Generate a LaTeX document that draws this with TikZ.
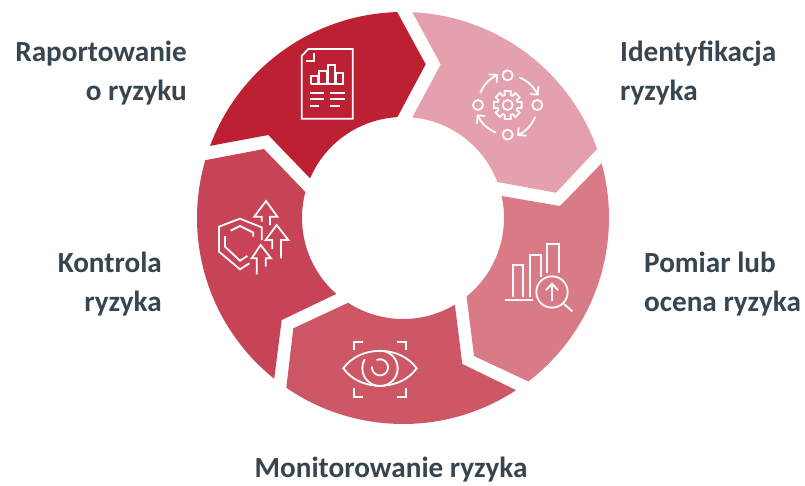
\documentclass[tikz,border=0pt]{standalone}
\usepackage{fontspec}
\setmainfont{Carlito}
\usepackage{xcolor}
\definecolor{raport}{HTML}{BC2032}
\definecolor{ident}{HTML}{E4A0AC}
\definecolor{pomiar}{HTML}{D97A87}
\definecolor{monit}{HTML}{CE5766}
\definecolor{kontrola}{HTML}{C64456}
\definecolor{labeltext}{HTML}{36454F}

\begin{document}
\begin{tikzpicture}[x=1pt, y=1pt,
  heading/.style={inner sep=0pt, text=labeltext, font=\fontsize{29.2}{39}\selectfont\bfseries},
  icon/.style={draw=white, line width=1.8pt, line join=miter},
  zoomed/.style={x=0.33333pt, y=-0.33333pt},
]
\useasboundingbox (-403,-267) rectangle (402,218);

\fill[raport] (159.5:206) arc[start angle=159.5, end angle=91.6, radius=206] -- (22.7,153.7)
  -- (93.2:101) arc[start angle=93.2, end angle=156.9, radius=101] -- (-134.7,83) -- cycle;
\fill[ident] (87.4:206) arc[start angle=87.4, end angle=19.6, radius=206] -- (153,25.3)
  -- (20.9:101) arc[start angle=20.9, end angle=84.7, radius=101] -- (37.7,153.7) -- cycle;
\fill[pomiar] (15.4:206) arc[start angle=15.4, end angle=-52.5, radius=206] -- (71,-138)
  -- (-51:101) arc[start angle=-51, end angle=12.6, radius=101] -- (157,12) -- cycle;
\fill[monit] (-56.7:206) arc[start angle=-56.7, end angle=-124.5, radius=206] -- (-109.7,-110.3)
  -- (-122.9:101) arc[start angle=-122.9, end angle=-59.1, radius=101] -- (59.3,-146) -- cycle;
\fill[kontrola] (231.3:206) arc[start angle=231.3, end angle=163.7, radius=206] -- (-139,69)
  -- (165.1:101) arc[start angle=165.1, end angle=228.7, radius=101] -- (-121.3,-102) -- cycle;

\node[heading, anchor=east, align=right] (raportowanie) at (-216,145) {Raportowanie\\o ryzyku};
\node[heading, anchor=west, align=left] (identyfikacja) at (217,145) {Identyfikacja\\ryzyka};
\node[heading, anchor=west, align=left] (pomiarlub) at (241,-66) {Pomiar lub\\ocena ryzyka};
\node[heading, anchor=east, align=right] (kontrolaryzyka) at (-241,-66) {Kontrola\\ryzyka};
\node[heading] (monitorowanie) at (-12,-252) {Monitorowanie ryzyka};

\begin{scope}[shift={(-213pt,218pt)}, zoomed]
\draw[icon] (355,147) -- (488,147) -- (488,356) -- (335,356) -- (335,168) -- cycle;
\draw[icon] (373,160) -- (373,184) -- (348,184);
\draw[icon] (363,253) -- (363,229) -- (385,229) -- (385,253);
\draw[icon] (388,253) -- (388,212) -- (410,212) -- (410,253);
\draw[icon] (414,253) -- (414,195) -- (436,195) -- (436,253);
\draw[icon] (439,253) -- (439,220) -- (460,220) -- (460,253) -- (363,253);
\foreach \y/\w in {279/402, 298/402, 318/388} \draw[icon] (360,\y) -- (\w,\y);
\foreach \y/\w in {279/464, 298/464, 318/449} \draw[icon] (421,\y) -- (\w,\y);
\end{scope}

\begin{scope}[shift={(-3pt,218pt)}, zoomed]
\foreach \a in {0,90,180,270} {
  \begin{scope}[rotate around={\a:(323,315)}]
  \draw[icon] (323,226) circle[radius=15];
  \draw[icon, line cap=round] (360,233) to[bend left=18] (413,283);
  \draw[icon, line cap=round] (415,260) -- (413,284) -- (392,282);
  \end{scope}
}
\begin{scope}[shift={(323,315)}]
\draw[icon] (0,0) circle[radius=15];
\draw[icon, line join=round] (-16:31) \foreach \a in {0,45,...,315} {
  -- (\a-16:31) -- (\a-13:43) -- (\a+13:43) -- (\a+16:31)} -- cycle;
\end{scope}
\end{scope}

\begin{scope}[shift={(47pt,48pt)}, zoomed]
\draw[icon] (165,391) -- (250,391);
\draw[icon] (188,381) -- (188,284) -- (220,284) -- (220,381);
\draw[icon] (240,381) -- (240,255) -- (273,255) -- (273,320);
\draw[icon] (291,310) -- (291,222) -- (326,222) -- (326,310);
\draw[icon] (306,366) circle[radius=47];
\draw[icon] (342,402) -- (367,424);
\draw[icon] (306,392) -- (306,342);
\draw[icon] (288,360) -- (306,342) -- (324,360);
\end{scope}

\begin{scope}[shift={(-133pt,-72pt)}, zoomed]
\draw[icon] (252,180) -- (252,155) -- (280,155);
\draw[icon] (380,155) -- (407,155) -- (407,180);
\draw[icon] (252,295) -- (252,320) -- (280,320);
\draw[icon] (380,320) -- (407,320) -- (407,295);
\draw[icon] (220,235) .. controls (270,165) and (390,165) .. (440,235)
  .. controls (390,305) and (270,305) .. (220,235) -- cycle;
\draw[icon] plot[smooth, domain=-80:211, samples=40] ({330+53*cos(\x)},{235+53*sin(\x)});
\draw[icon] plot[smooth, domain=-115:185, samples=30] ({330+24*cos(\x)},{232+24*sin(\x)});
\end{scope}

\begin{scope}[shift={(-213pt,78pt)}, zoomed]
\draw[icon] (215,300) -- (215,262) -- (150,236) -- (87,260) -- (87,335) -- (150,388) -- (178,370);
\draw[icon] (122,272) -- (150,258) -- (190,278) -- (190,290);
\draw[icon] (105,288) -- (105,320) -- (150,362) -- (172,348);
\draw[icon] (215,245) -- (215,230) -- (193,230) -- (228,183) -- (262,230) -- (240,230) -- (240,255);
\draw[icon] (247,327) -- (247,300) -- (227,300) -- (260,255) -- (295,300) -- (273,300) -- (273,355);
\draw[icon] (200,403) -- (200,355) -- (185,355) -- (212,315) -- (243,355) -- (227,355) -- (227,380);
\end{scope}
\end{tikzpicture}
\end{document}
